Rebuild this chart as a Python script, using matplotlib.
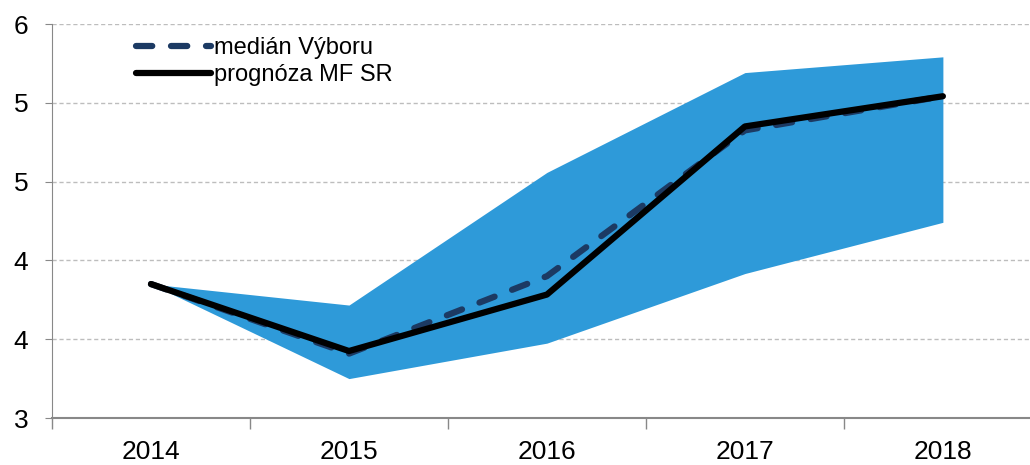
import numpy as np
import matplotlib.pyplot as plt
from matplotlib.ticker import FormatStrFormatter

years = ['2014', '2015', '2016', '2017', '2018']
median = [4.02, 3.49, 4.08, 5.19, 5.45]
mfsr = [4.02, 3.51, 3.94, 5.22, 5.45]
band_low = [4.02, 3.30, 3.57, 4.10, 4.49]
band_high = [4.02, 3.86, 4.87, 5.63, 5.75]

plt.rcParams['font.family'] = ['Liberation Sans', 'DejaVu Sans']

fig = plt.figure(figsize=(10.3, 4.65), dpi=100)
ax = fig.add_axes([52/1030, 1 - 418/465, 1 - 52/1030, (418-24)/465])

x = np.arange(len(years))
ax.fill_between(x, band_low, band_high, color='#2e9ad9', lw=0, zorder=1)
ax.plot(x, median, color='#1c3a63', lw=4.5, dashes=(2.6, 3.0), dash_capstyle='round',
	label='medián Výboru', zorder=2)
ax.plot(x, mfsr, color='black', lw=4.5, solid_capstyle='round',
	label='prognóza MF SR', zorder=3)

ax.set_xlim(-0.5, 4.44)
ax.set_ylim(3, 6)
ax.set_yticks(np.linspace(3, 6, 6))
ax.yaxis.set_major_formatter(FormatStrFormatter('%.0f'))
ax.yaxis.grid(True, color='#bdbdbd', ls=(0, (3, 2)), lw=1)
ax.set_axisbelow(True)

ax.set_xticks(x)
ax.set_xticklabels(years)
ax.set_xticks(np.arange(-0.5, 4.0, 1), minor=True)
ax.tick_params(axis='x', which='major', length=0, pad=16, labelsize=19)
ax.tick_params(axis='x', which='minor', length=8, color='#888888', width=1)
ax.tick_params(axis='y', length=5, color='#888888', labelsize=19, pad=12)

for s in ['top', 'right']:
	ax.spines[s].set_visible(False)
ax.spines['left'].set_color('#888888')
ax.spines['bottom'].set_color('#888888')
ax.spines['bottom'].set_linewidth(1.5)

leg = ax.legend(loc='upper left', bbox_to_anchor=(0.064, 1.02), frameon=False,
	fontsize=17, handlelength=3.2, handletextpad=0.1, labelspacing=0.2)

fig.savefig('out.png', dpi=100)
